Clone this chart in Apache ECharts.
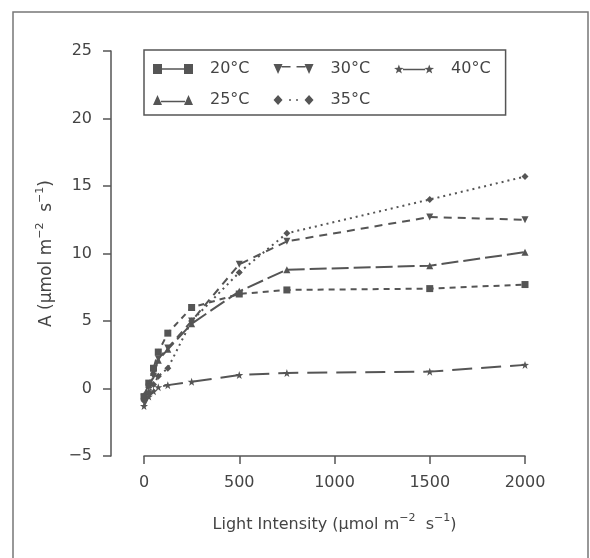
<!DOCTYPE html>
<html>
<head>
<meta charset="utf-8">
<script src="https://cdn.jsdelivr.net/npm/echarts@6/dist/echarts.min.js"></script>
<style>
body{margin:0;background:#fff;}
#myChart{width:590px;height:558px;}
</style>
</head>
<body>
<div id="myChart"></div>
<script>
// 光强 (x轴)
var lightVals = [0, 25, 50, 75, 125, 250, 500, 750, 1500, 2000];
// 各温度下的 A 值
var a20 = [-0.6, 0.4, 1.5, 2.7, 4.1, 6.0, 7.0, 7.3, 7.4, 7.7];
var a25 = [-0.5, 0.3, 1.2, 2.1, 2.9, 4.8, 7.2, 8.8, 9.1, 10.1];
var a30 = [-0.7, 0.1, 0.9, 2.2, 3.0, 5.0, 9.2, 10.9, 12.7, 12.5];
var a35 = [-0.9, -0.3, 0.3, 0.9, 1.5, 5.0, 8.6, 11.5, 14.0, 15.7];
var a40 = [-1.3, -0.6, -0.2, 0.1, 0.25, 0.5, 1.0, 1.15, 1.25, 1.75];
var seriesNames = ['20°C', '25°C', '30°C', '35°C', '40°C'];
var xTicks = [0, 500, 1000, 1500, 2000];
var yTicks = [-5, 0, 5, 10, 15, 20, 25];

var ink = '#555';
var txt = '#444';
var font = 'DejaVu Sans';

function pairs(ys){
	return lightVals.map(function(x, i){ return [x, ys[i]]; });
}
// 五角星 path
function starPts(cx, cy, R, r){
	var s = '';
	for (var k = 0; k < 10; k++) {
		var ang = (-90 + k * 36) * Math.PI / 180;
		var rr = k % 2 ? r : R;
		s += (k ? 'L' : 'M') + (cx + rr * Math.cos(ang)).toFixed(2) + ' ' + (cy + rr * Math.sin(ang)).toFixed(2);
	}
	return s + 'Z';
}
var starSym = 'path://' + starPts(5, 5, 5, 2);

// 图例图标：两端标记 + 线
var icons = {
	'20°C': 'path://M0 0H9V10H0Z M31 0H40V10H31Z M9 4.2H31V5.8H9Z',
	'25°C': 'path://M0 10L4.5 0L9 10Z M31 10L35.5 0L40 10Z M8 5.8H32V7.2H8Z',
	'30°C': 'path://M0 0H9L4.5 10Z M31 0H40L35.5 10Z M8 2H17V3.5H8Z M23 2H32V3.5H23Z',
	'35°C': 'path://M0 5L4.5 0L9 5L4.5 10Z M31 5L35.5 0L40 5L35.5 10Z M15.5 4.2H17.5V5.8H15.5Z M22.5 4.2H24.5V5.8H22.5Z',
	'40°C': 'path://' + starPts(5, 5, 5, 2) + ' ' + starPts(35, 5, 5, 2) + ' M9 4.3H31V5.7H9Z'
};
function legendData(names){
	return names.map(function(n){ return {name: n, icon: icons[n]}; });
}

var sup = {fontSize: 11, fontFamily: font, color: txt, padding: [0, 0, 9, 0], verticalAlign: 'bottom'};
var nrm = {fontSize: 16, fontFamily: font, color: txt, verticalAlign: 'bottom'};

var myChart = echarts.init(document.getElementById('myChart'));
var options = {
	animation: false,
	backgroundColor: '#fff',
	graphic: [{
		type: 'rect',
		shape: {x: 13, y: 12, width: 575, height: 600},
		style: {fill: 'none', stroke: '#777', lineWidth: 1.5},
		silent: true
	}],
	grid: {left: 144, right: 65, top: 51, bottom: 102},
	legend: [{
		data: legendData(['20°C', '30°C', '40°C']),
		left: 144, top: 50,
		padding: [11, 15, 38, 9],
		borderColor: ink, borderWidth: 1.5,
		itemWidth: 40, itemHeight: 10, itemGap: 24,
		itemStyle: {borderWidth: 0},
		textStyle: {fontSize: 16, fontFamily: font, color: txt, padding: [0, 0, 0, 12]}
	}, {
		data: legendData(['25°C', '35°C']),
		left: 153, top: 92,
		padding: 0,
		itemWidth: 40, itemHeight: 10, itemGap: 24,
		itemStyle: {borderWidth: 0},
		textStyle: {fontSize: 16, fontFamily: font, color: txt, padding: [0, 0, 0, 12]}
	}],
	xAxis: {
		type: 'value', min: xTicks[0], max: xTicks[xTicks.length - 1], interval: 500,
		splitLine: {show: false},
		axisLine: {onZero: false, lineStyle: {color: ink, width: 1.5}},
		axisTick: {length: 8, lineStyle: {color: ink, width: 1.5}},
		axisLabel: {fontSize: 16, fontFamily: font, color: txt, margin: 19,
			formatter: function(v){ return String(v); }},
		name: '{n|Light Intensity (μmol m}{s|−2}{n|  s}{s|−1}{n|)}',
		nameLocation: 'middle', nameGap: 57,
		nameTextStyle: {rich: {n: nrm, s: sup}}
	},
	yAxis: {
		type: 'value', min: yTicks[0], max: yTicks[yTicks.length - 1], interval: 5,
		offset: 33,
		splitLine: {show: false},
		axisLine: {onZero: false, lineStyle: {color: ink, width: 1.5}},
		axisTick: {length: 8, lineStyle: {color: ink, width: 1.5}},
		axisLabel: {fontSize: 16, fontFamily: font, color: txt, margin: 19,
			formatter: function(v){ return String(v).replace('-', '−'); }},
		name: '{n|A (μmol m}{s|−2}{n|  s}{s|−1}{n|)}',
		nameLocation: 'middle', nameRotate: 90, nameGap: 56,
		nameTextStyle: {rich: {n: {fontSize: 17, fontFamily: font, color: txt, verticalAlign: 'bottom'}, s: sup}}
	},
	series: [
		{name: seriesNames[0], type: 'line', data: pairs(a20), symbol: 'rect', symbolSize: 7,
			lineStyle: {type: [6, 5], width: 2}},
		{name: seriesNames[1], type: 'line', data: pairs(a25), symbol: 'triangle', symbolSize: 7,
			lineStyle: {type: [17, 5], width: 2}},
		{name: seriesNames[2], type: 'line', data: pairs(a30), symbol: 'triangle', symbolRotate: 180, symbolSize: 7,
			lineStyle: {type: [8, 6], width: 2}},
		{name: seriesNames[3], type: 'line', data: pairs(a35), symbol: 'diamond', symbolSize: 7,
			lineStyle: {type: [2, 4], width: 2}},
		{name: seriesNames[4], type: 'line', data: pairs(a40), symbol: starSym, symbolSize: 8,
			lineStyle: {type: [20, 9], width: 2}}
	].map(function(s){
		s.color = ink;
		s.itemStyle = {color: ink};
		s.lineStyle.color = ink;
		s.showSymbol = true;
		return s;
	})
};
myChart.setOption(options);
</script>
</body>
</html>
